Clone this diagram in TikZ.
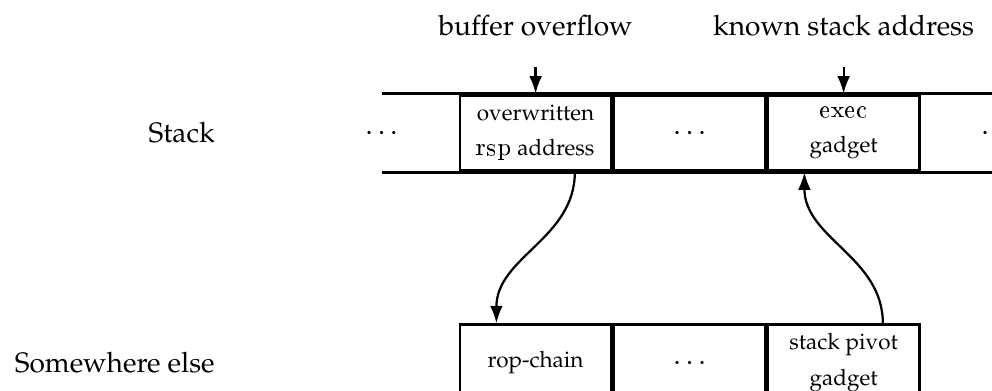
\documentclass[tikz,border=0pt]{standalone}
\usepackage[T1]{fontenc}
\usepackage{mathpazo}
\renewcommand{\ttdefault}{lmtt}
\usetikzlibrary{positioning,arrows.meta}

\begin{document}
\begin{tikzpicture}[
            cell/.style={rectangle, draw, line width=1pt, minimum width=1.89cm, minimum height=0.945cm, inner sep=2pt, align=center, font=\footnotesize},
            gap/.style={cell, draw=none},
            rowlabel/.style={anchor=east},
            pointer/.style={thick, -{Latex[length=2.2mm,width=1.6mm]}},
        ]
            \useasboundingbox (0,0) rectangle (12.4,4.8875);
            % the stack
            \node[gap] (ldots) at (4.77,3.225) {\normalsize$\dots$};
            \node[cell, right=0pt of ldots] (rsp) {overwritten\\[3pt]{\small\texttt{rsp}} address};
            \node[cell, right=0pt of rsp] (middots) {\normalsize$\dots$};
            \node[cell, right=0pt of middots] (exec) {{\small\texttt{exec}}\\[3pt]gadget};
            \node[gap, right=0pt of exec] (rdots) {\normalsize$\dots$};
            \draw[line width=1pt] (ldots.north) -- (rdots.north);
            \draw[line width=1pt] (ldots.south) -- (rdots.south);
            % somewhere else
            \node[cell, below=1.89cm of rsp] (rop) {rop-chain};
            \node[cell, right=0pt of rop] (ropdots) {\normalsize$\dots$};
            \node[cell, right=0pt of ropdots] (pivot) {stack pivot\\[3pt]gadget};
            \node[left=1cm of ldots] (stack) {Stack};
            \node[rowlabel] (elsewhere) at (stack.east |- rop) {Somewhere else};
            % what points where
            \node[above=0.6cm of rsp] (overflow) {buffer overflow};
            \node[above=0.6cm of exec] (known) {known stack address};
            \coordinate[above=0.33cm of rsp.north] (hitrsp);
            \coordinate[above=0.33cm of exec.north] (hitexec);
            \draw[pointer] (hitrsp) -- (rsp);
            \draw[pointer] (hitexec) -- (exec);
            \draw[pointer] (rsp.-45) to[out=-90, in=90] (rop.135);
            \draw[pointer] (pivot.45) to[out=90, in=-90] (exec.-135);
        \end{tikzpicture}
\end{document}
